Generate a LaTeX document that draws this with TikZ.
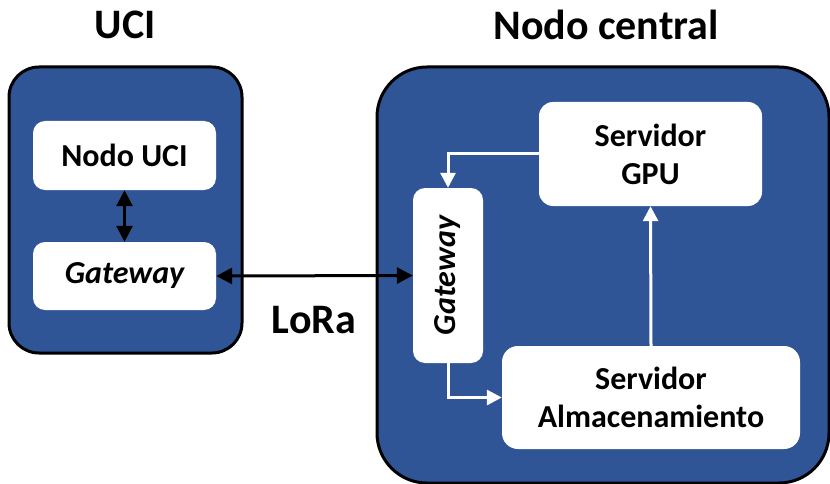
\documentclass[tikz,border=0pt]{standalone}
\usepackage{fontspec}
\setmainfont{Carlito}
\usetikzlibrary{arrows.meta}
\definecolor{panelblue}{HTML}{2F5597}
\tikzset{
  panel/.style={draw=black, line width=3pt, fill=panelblue, rounded corners=#1},
  card/.style={fill=white, draw=none, rounded corners=#1, align=center,
    font=\fontsize{32}{38}\selectfont\bfseries, inner sep=0pt},
  title/.style={font=\fontsize{42}{48}\selectfont\bfseries},
  blk/.style={draw=black, line width=3pt, {Triangle[length=16pt,width=16pt]}-{Triangle[length=16pt,width=16pt]}},
  wht/.style={draw=white, line width=3pt, -{Triangle[length=15pt,width=15pt]}}
}
\begin{document}
\begin{tikzpicture}[x=1pt,y=-1pt]
\useasboundingbox (0,0) rectangle (830,484);
% containers
\node[panel=30pt, minimum width=233pt, minimum height=286pt] (uci) at (125.5,210) {};
\node[panel=50pt, minimum width=452pt, minimum height=416pt] (central) at (603,275) {};
% titles
\node[title] (tuci) at (125,25) {UCI};
\node[title] (tcentral) at (606,25) {Nodo central};
% left side
\node[card=12pt, minimum width=183pt, minimum height=69pt] (nodouci) at (124.5,155.5) {Nodo UCI};
\node[card=12pt, minimum width=183pt, minimum height=68pt] (gwl) at (124.5,276) {\itshape Gateway};
% right side
\node[card=14pt, minimum width=223pt, minimum height=104pt] (gpu) at (650.5,154) {Servidor\\GPU};
\node[card=12pt, minimum width=70pt, minimum height=175pt] (gwr) at (448,275.5) {\rotatebox{90}{\itshape Gateway}};
\node[card=16pt, minimum width=298pt, minimum height=103pt] (alm) at (651,397.5) {Servidor\\Almacenamiento};
% LoRa label
\node[title] (lora) at (314,320) {LoRa};
% connectors
\draw[blk] (nodouci.south) -- (gwl.north);
\draw[blk] (gwl.east) -- (gwr.west);
\draw[wht] (gpu.west) -| (gwr.north);
\draw[wht] (gwr.south) |- (alm.west);
\draw[wht] (alm.north) -- (gpu.south);
\end{tikzpicture}
\end{document}
